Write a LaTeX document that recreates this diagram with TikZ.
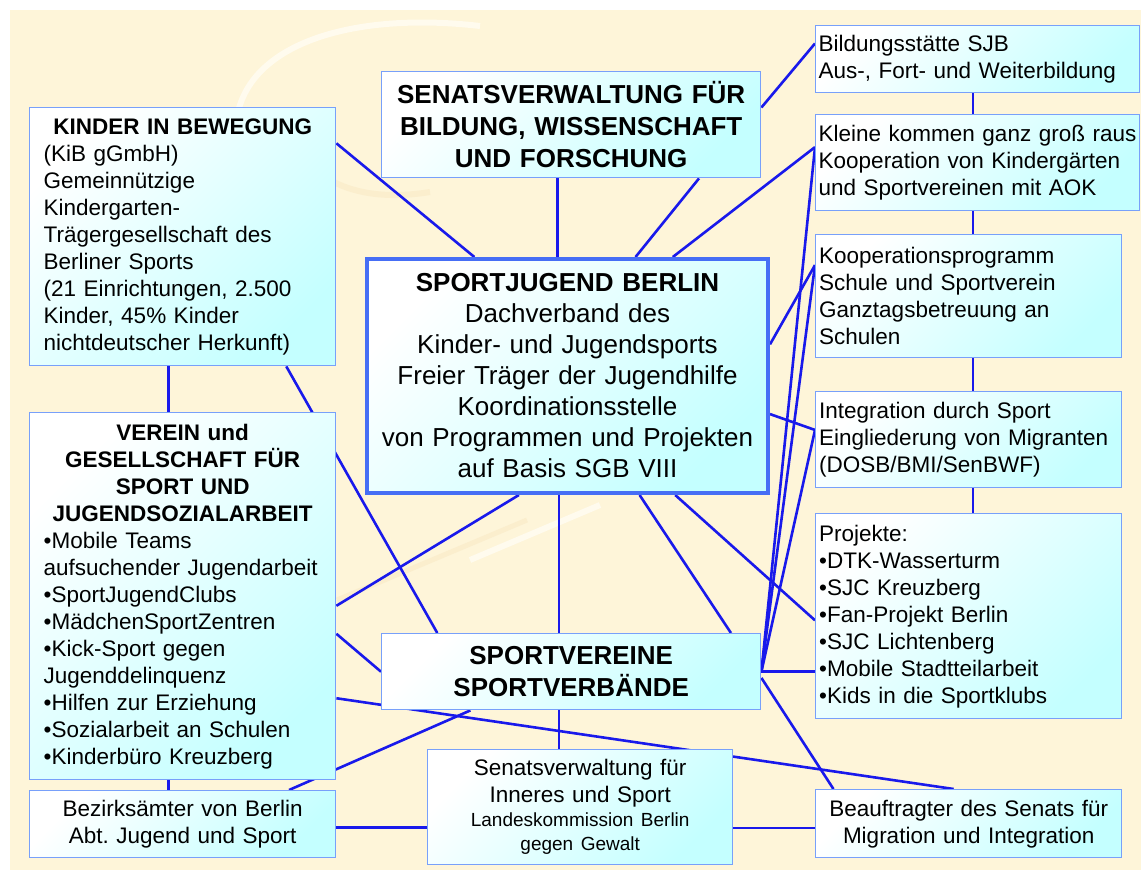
\documentclass[tikz,border=0pt]{standalone}
\usepackage{fontspec}
\setmainfont{Liberation Sans}
\usetikzlibrary{calc}
\frenchspacing

\definecolor{cream}{RGB}{254,245,217}
\definecolor{swirl}{RGB}{255,251,238}
\definecolor{swirldark}{RGB}{251,238,205}
\definecolor{boxline}{RGB}{120,160,250}
\definecolor{hubline}{RGB}{70,110,245}
\definecolor{boxcyan}{RGB}{196,255,255}
\definecolor{wireblue}{RGB}{25,25,235}

\pgfdeclarelayer{paper}
\pgfdeclarelayer{wires}
\pgfsetlayers{paper,wires,main}

\newcommand{\txt}{\fontsize{22.5}{27}\selectfont}
\newcommand{\bigtxt}{\fontsize{26}{31}\selectfont}
\newcommand{\smalltxt}{\fontsize{19}{24}\selectfont}
\newcommand{\boxhead}[1]{\makebox[\linewidth]{\bfseries #1}}

\begin{document}
\begin{tikzpicture}[x=1pt,y=-1pt]

%STYLES
\tikzstyle{plainbox}=[draw=boxline, line width=1.4pt, left color=white, right color=boxcyan, shading angle=45, inner sep=0pt, anchor=north west, font=\txt, text=black]
\tikzstyle{leftbox}=[plainbox, align=left]
\tikzstyle{centerbox}=[plainbox, align=center]
\tikzstyle{hubbox}=[centerbox, draw=hubline, line width=4pt]
\tikzstyle{conn}=[draw=wireblue, line width=2.6pt]

\useasboundingbox (0,0) rectangle (1141,870);

%BACKGROUND
\begin{pgfonlayer}{paper}
\fill[white] (0,0) rectangle (1141,870);
\fill[cream] (10,10) rectangle (1141,870);
\draw[swirl, line width=6pt] (238,112) .. controls (255,40) and (360,12) .. (480,26);
\draw[swirldark, line width=6pt] (286,122) .. controls (300,175) and (350,205) .. (430,192);
\draw[swirldark, line width=5pt] (337,600) -- (527,520);
\draw[swirl, line width=6pt] (470,560) -- (600,505);
\end{pgfonlayer}

%NODES
\node[leftbox, minimum width=306pt, minimum height=258pt, text width=278pt] (kib) at (29,107)
  {\boxhead{KINDER IN BEWEGUNG}\\(KiB gGmbH)\\Gemeinnützige\\Kindergarten-\\Trägergesellschaft des\\Berliner Sports\\(21 Einrichtungen, 2.500\\Kinder, 45\% Kinder\\nichtdeutscher Herkunft)};
\node[leftbox, minimum width=306pt, minimum height=367pt, text width=278pt] (verein) at (29,412)
  {\boxhead{VEREIN und}\\\boxhead{GESELLSCHAFT FÜR}\\\boxhead{SPORT UND}\\\boxhead{JUGENDSOZIALARBEIT}\\•Mobile Teams\\aufsuchender Jugendarbeit\\•SportJugendClubs\\•MädchenSportZentren\\•Kick-Sport gegen\\Jugenddelinquenz\\•Hilfen zur Erziehung\\•Sozialarbeit an Schulen\\•Kinderbüro Kreuzberg};
\node[centerbox, minimum width=306pt, minimum height=67pt, text width=296pt] (bezirk) at (29,790)
  {Bezirksämter von Berlin\\Abt. Jugend und Sport};

\node[centerbox, minimum width=379pt, minimum height=106pt, text width=370pt, font=\fontsize{26}{32}\selectfont\bfseries] (senbwf) at (381,71)
  {SENATSVERWALTUNG FÜR\\BILDUNG, WISSENSCHAFT\\UND FORSCHUNG};
\node[hubbox, minimum width=401pt, minimum height=234pt, text width=395pt, font=\bigtxt] (sjb) at (365,257)
  {{\bfseries SPORTJUGEND BERLIN}\\Dachverband des\\Kinder- und Jugendsports\\Freier Träger der Jugendhilfe\\Koordinationsstelle\\von Programmen und Projekten\\auf Basis SGB VIII};
\node[centerbox, minimum width=379pt, minimum height=76pt, text width=370pt, font=\fontsize{26}{32}\selectfont\bfseries] (sportv) at (381,633)
  {SPORTVEREINE\\SPORTVERBÄNDE};
\node[centerbox, minimum width=305pt, minimum height=115pt, text width=295pt] (seninn) at (427,749)
  {Senatsverwaltung für\\Inneres und Sport\par\smalltxt Landeskommission Berlin\\gegen Gewalt\par};

\node[leftbox, minimum width=324pt, minimum height=67pt, text width=318pt] (bildung) at (815,25)
  {Bildungsstätte SJB\\Aus-, Fort- und Weiterbildung};
\node[leftbox, minimum width=324pt, minimum height=96pt, text width=318pt] (kleine) at (815,114)
  {Kleine kommen ganz groß raus\\Kooperation von Kindergärten\\und Sportvereinen mit AOK};
\node[leftbox, minimum width=306pt, minimum height=123pt, text width=299pt] (koop) at (815,234)
  {Kooperationsprogramm\\Schule und Sportverein\\Ganztagsbetreuung an\\Schulen};
\node[leftbox, minimum width=306pt, minimum height=96pt, text width=299pt] (integ) at (815,391)
  {Integration durch Sport\\Eingliederung von Migranten\\(DOSB/BMI/SenBWF)};
\node[leftbox, minimum width=306pt, minimum height=205pt, text width=299pt] (projekte) at (815,513)
  {Projekte:\\•DTK-Wasserturm\\•SJC Kreuzberg\\•Fan-Projekt Berlin\\•SJC Lichtenberg\\•Mobile Stadtteilarbeit\\•Kids in die Sportklubs};
\node[centerbox, minimum width=306pt, minimum height=68pt, text width=296pt] (beauf) at (815,789)
  {Beauftragter des Senats für\\Migration und Integration};

%CONNECTORS
\begin{pgfonlayer}{wires}
%left column
\draw[conn] ($(kib.north east)!.14!(kib.south east)$) -- ($(sjb.north west)!.27!(sjb.north east)$);
\draw[conn] ($(kib.south west)!.454!(kib.south east)$) coordinate (kv) -- (kv |- verein.north);
\draw[conn] ($(kib.south west)!.837!(kib.south east)$) -- ($(sportv.north west)!.148!(sportv.north east)$);
\draw[conn] (kv |- verein.south) -- (kv |- bezirk.north);
\draw[conn] ($(verein.north east)!.602!(verein.south east)$) -- (sportv.west);
\draw[conn] ($(verein.north east)!.777!(verein.south east)$) -- ($(beauf.north west)!.451!(beauf.north east)$);
\draw[conn] ($(bezirk.north west)!.846!(bezirk.north east)$) -- ($(sportv.south west)!.235!(sportv.south east)$);
\draw[conn] ($(bezirk.north east)!.55!(bezirk.south east)$) coordinate (bz) -- (bz -| seninn.west);
%senatsverwaltung bildung
\draw[conn] ($(senbwf.south west)!.464!(senbwf.south east)$) coordinate (sv) -- (sv |- sjb.north);
\draw[conn] ($(senbwf.south west)!.836!(senbwf.south east)$) -- ($(sjb.north west)!.668!(sjb.north east)$);
\draw[conn] ($(senbwf.north east)!.34!(senbwf.south east)$) -- ($(bildung.north west)!.27!(bildung.south west)$);
%sportjugend
\draw[conn] ($(kleine.north west)!.34!(kleine.south west)$) -- ($(sjb.north west)!.76!(sjb.north east)$);
\draw[conn] ($(koop.north west)!.25!(koop.south west)$) -- ($(sjb.north east)!.367!(sjb.south east)$);
\draw[conn] ($(sjb.north east)!.66!(sjb.south east)$) -- ($(integ.north west)!.4!(integ.south west)$);
\draw[conn] ($(sjb.south west)!.766!(sjb.south east)$) -- ($(projekte.north west)!.52!(projekte.south west)$);
\draw[conn] ($(sjb.south west)!.678!(sjb.south east)$) -- ($(sportv.north west)!.92!(sportv.north east)$);
\draw[conn] ($(sjb.south west)!.479!(sjb.south east)$) coordinate (sj) -- (sj |- sportv.north);
\draw[conn] ($(sjb.south west)!.38!(sjb.south east)$) -- ($(verein.north east)!.526!(verein.south east)$);
%sportvereine
\draw[conn] ($(kleine.north west)!.34!(kleine.south west)$) -- (sportv.east);
\draw[conn] ($(koop.north west)!.25!(koop.south west)$) -- (sportv.east);
\draw[conn] ($(integ.north west)!.4!(integ.south west)$) -- (sportv.east);
\draw[conn] (sportv.east) -- (sportv.east -| projekte.west);
\draw[conn] ($(sportv.north east)!.58!(sportv.south east)$) -- ($(beauf.north west)!.06!(beauf.north east)$);
\draw[conn] (sj |- sportv.south) -- (sj |- seninn.north);
\draw[conn] ($(seninn.north east)!.68!(seninn.south east)$) coordinate (si) -- (si -| beauf.west);
%right column
\coordinate (rc) at ($(bildung.south west)!.485!(bildung.south east)$);
\foreach \a/\b in {bildung/kleine, kleine/koop, koop/integ, integ/projekte}
  \draw[conn] (rc |- \a.south) -- (rc |- \b.north);
\end{pgfonlayer}

\end{tikzpicture}
\end{document}
